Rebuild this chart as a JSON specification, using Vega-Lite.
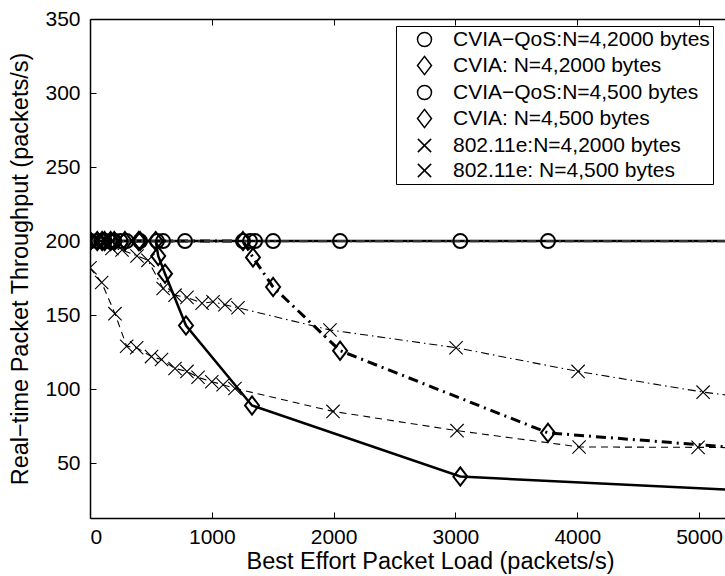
{
  "$schema": "https://vega.github.io/schema/vega-lite/v6.json",
  "width": 635,
  "height": 499,
  "autosize": "none",
  "padding": {"left": 90, "top": 19, "right": 0, "bottom": 58},
  "background": "white",
  "config": {
    "font": "Liberation Sans",
    "view": {"stroke": null},
    "axis": {
      "grid": false,
      "domainColor": "black",
      "domainWidth": 1.5,
      "tickColor": "black",
      "tickWidth": 1,
      "tickSize": -6,
      "labelFont": "Liberation Sans",
      "labelFontSize": 21,
      "labelColor": "black",
      "titleFont": "Liberation Sans",
      "titleFontSize": 23.5,
      "titleFontWeight": "normal",
      "titleColor": "black"
    }
  },
  "data": {
    "values": [
      {"s": "CVIA\u2212QoS:N=4,2000 bytes", "x": 0, "y": 200},
      {"s": "CVIA\u2212QoS:N=4,2000 bytes", "x": 60, "y": 200},
      {"s": "CVIA\u2212QoS:N=4,2000 bytes", "x": 120, "y": 200},
      {"s": "CVIA\u2212QoS:N=4,2000 bytes", "x": 170, "y": 200},
      {"s": "CVIA\u2212QoS:N=4,2000 bytes", "x": 250, "y": 200},
      {"s": "CVIA\u2212QoS:N=4,2000 bytes", "x": 411, "y": 200},
      {"s": "CVIA\u2212QoS:N=4,2000 bytes", "x": 550, "y": 200},
      {"s": "CVIA\u2212QoS:N=4,2000 bytes", "x": 600, "y": 200},
      {"s": "CVIA\u2212QoS:N=4,2000 bytes", "x": 780, "y": 200},
      {"s": "CVIA\u2212QoS:N=4,2000 bytes", "x": 1314, "y": 200},
      {"s": "CVIA\u2212QoS:N=4,2000 bytes", "x": 3040, "y": 200},
      {"s": "CVIA\u2212QoS:N=4,2000 bytes", "x": 6000, "y": 200},
      {"s": "CVIA: N=4,2000 bytes", "x": 0, "y": 200},
      {"s": "CVIA: N=4,2000 bytes", "x": 60, "y": 200},
      {"s": "CVIA: N=4,2000 bytes", "x": 120, "y": 200},
      {"s": "CVIA: N=4,2000 bytes", "x": 170, "y": 200},
      {"s": "CVIA: N=4,2000 bytes", "x": 287, "y": 200},
      {"s": "CVIA: N=4,2000 bytes", "x": 411, "y": 200},
      {"s": "CVIA: N=4,2000 bytes", "x": 540, "y": 200},
      {"s": "CVIA: N=4,2000 bytes", "x": 560, "y": 190},
      {"s": "CVIA: N=4,2000 bytes", "x": 616, "y": 178},
      {"s": "CVIA: N=4,2000 bytes", "x": 788, "y": 143},
      {"s": "CVIA: N=4,2000 bytes", "x": 1330, "y": 89},
      {"s": "CVIA: N=4,2000 bytes", "x": 3040, "y": 41},
      {"s": "CVIA: N=4,2000 bytes", "x": 6000, "y": 29},
      {"s": "CVIA\u2212QoS:N=4,500 bytes", "x": 0, "y": 200},
      {"s": "CVIA\u2212QoS:N=4,500 bytes", "x": 100, "y": 200},
      {"s": "CVIA\u2212QoS:N=4,500 bytes", "x": 200, "y": 200},
      {"s": "CVIA\u2212QoS:N=4,500 bytes", "x": 300, "y": 200},
      {"s": "CVIA\u2212QoS:N=4,500 bytes", "x": 1256, "y": 200},
      {"s": "CVIA\u2212QoS:N=4,500 bytes", "x": 1355, "y": 200},
      {"s": "CVIA\u2212QoS:N=4,500 bytes", "x": 1503, "y": 200},
      {"s": "CVIA\u2212QoS:N=4,500 bytes", "x": 2053, "y": 200},
      {"s": "CVIA\u2212QoS:N=4,500 bytes", "x": 3760, "y": 200},
      {"s": "CVIA\u2212QoS:N=4,500 bytes", "x": 6000, "y": 200},
      {"s": "CVIA: N=4,500 bytes", "x": 0, "y": 200},
      {"s": "CVIA: N=4,500 bytes", "x": 100, "y": 200},
      {"s": "CVIA: N=4,500 bytes", "x": 200, "y": 200},
      {"s": "CVIA: N=4,500 bytes", "x": 400, "y": 200},
      {"s": "CVIA: N=4,500 bytes", "x": 1256, "y": 200},
      {"s": "CVIA: N=4,500 bytes", "x": 1338, "y": 189},
      {"s": "CVIA: N=4,500 bytes", "x": 1503, "y": 169},
      {"s": "CVIA: N=4,500 bytes", "x": 2053, "y": 126},
      {"s": "CVIA: N=4,500 bytes", "x": 3760, "y": 70.5},
      {"s": "CVIA: N=4,500 bytes", "x": 6000, "y": 56},
      {"s": "802.11e:N=4,2000 bytes", "x": 0, "y": 182},
      {"s": "802.11e:N=4,2000 bytes", "x": 96, "y": 172},
      {"s": "802.11e:N=4,2000 bytes", "x": 205, "y": 151},
      {"s": "802.11e:N=4,2000 bytes", "x": 301, "y": 129},
      {"s": "802.11e:N=4,2000 bytes", "x": 383, "y": 128},
      {"s": "802.11e:N=4,2000 bytes", "x": 505, "y": 122},
      {"s": "802.11e:N=4,2000 bytes", "x": 587, "y": 120},
      {"s": "802.11e:N=4,2000 bytes", "x": 698, "y": 114},
      {"s": "802.11e:N=4,2000 bytes", "x": 796, "y": 112},
      {"s": "802.11e:N=4,2000 bytes", "x": 887, "y": 108},
      {"s": "802.11e:N=4,2000 bytes", "x": 1000, "y": 105},
      {"s": "802.11e:N=4,2000 bytes", "x": 1093, "y": 103},
      {"s": "802.11e:N=4,2000 bytes", "x": 1190, "y": 100.5},
      {"s": "802.11e:N=4,2000 bytes", "x": 1995, "y": 85},
      {"s": "802.11e:N=4,2000 bytes", "x": 3013, "y": 72},
      {"s": "802.11e:N=4,2000 bytes", "x": 4015, "y": 61},
      {"s": "802.11e:N=4,2000 bytes", "x": 4992, "y": 60.7},
      {"s": "802.11e:N=4,2000 bytes", "x": 6000, "y": 60},
      {"s": "802.11e: N=4,500 bytes", "x": 0, "y": 200},
      {"s": "802.11e: N=4,500 bytes", "x": 100, "y": 199},
      {"s": "802.11e: N=4,500 bytes", "x": 180, "y": 195},
      {"s": "802.11e: N=4,500 bytes", "x": 263, "y": 194},
      {"s": "802.11e: N=4,500 bytes", "x": 386, "y": 190},
      {"s": "802.11e: N=4,500 bytes", "x": 476, "y": 187},
      {"s": "802.11e: N=4,500 bytes", "x": 600, "y": 168},
      {"s": "802.11e: N=4,500 bytes", "x": 698, "y": 163.5},
      {"s": "802.11e: N=4,500 bytes", "x": 796, "y": 162},
      {"s": "802.11e: N=4,500 bytes", "x": 920, "y": 158},
      {"s": "802.11e: N=4,500 bytes", "x": 1010, "y": 159},
      {"s": "802.11e: N=4,500 bytes", "x": 1108, "y": 157},
      {"s": "802.11e: N=4,500 bytes", "x": 1215, "y": 155},
      {"s": "802.11e: N=4,500 bytes", "x": 1970, "y": 140},
      {"s": "802.11e: N=4,500 bytes", "x": 3005, "y": 128},
      {"s": "802.11e: N=4,500 bytes", "x": 4007, "y": 112},
      {"s": "802.11e: N=4,500 bytes", "x": 5033, "y": 98},
      {"s": "802.11e: N=4,500 bytes", "x": 6000, "y": 88}
    ]
  },
  "resolve": {"axis": {"x": "independent", "y": "independent"}},
  "layer": [
    {
      "transform": [{"filter": "datum.s === '802.11e:N=4,2000 bytes'"}],
      "mark": {"type": "line", "clip": true, "color": "black", "strokeWidth": 1.1, "strokeDash": [7, 5]},
      "encoding": {
        "x": {"field": "x", "type": "quantitative", "scale": {"domain": [0, 5213], "nice": false, "zero": false},
          "axis": {"values": [0, 1000, 2000, 3000, 4000, 5000], "format": "d", "title": "Best Effort Packet Load (packets/s)", "labelPadding": 14, "titlePadding": 2, "titleX": 340}},
        "y": {"field": "y", "type": "quantitative", "scale": {"domain": [13, 350], "nice": false, "zero": false},
          "axis": {"values": [50, 100, 150, 200, 250, 300, 350], "format": "d", "title": "Real\u2212time Packet Throughput (packets/s)", "labelPadding": 16, "titlePadding": 12}}
      }
    },
    {
      "transform": [{"filter": "datum.s === '802.11e: N=4,500 bytes'"}],
      "mark": {"type": "line", "clip": true, "color": "black", "strokeWidth": 1.1, "strokeDash": [8, 4, 1.5, 4]},
      "encoding": {
        "x": {"field": "x", "type": "quantitative", "axis": null},
        "y": {"field": "y", "type": "quantitative", "axis": null}
      }
    },
    {
      "transform": [{"filter": "datum.s === 'CVIA: N=4,500 bytes'"}],
      "mark": {"type": "line", "clip": true, "color": "black", "strokeWidth": 3, "strokeDash": [10, 5, 2, 5]},
      "encoding": {
        "x": {"field": "x", "type": "quantitative", "axis": null},
        "y": {"field": "y", "type": "quantitative", "axis": null}
      }
    },
    {
      "transform": [{"filter": "datum.s === 'CVIA: N=4,2000 bytes'"}],
      "mark": {"type": "line", "clip": true, "color": "black", "strokeWidth": 2.5},
      "encoding": {
        "x": {"field": "x", "type": "quantitative", "axis": null},
        "y": {"field": "y", "type": "quantitative", "axis": null}
      }
    },
    {
      "transform": [{"filter": "datum.s === 'CVIA\u2212QoS:N=4,2000 bytes'"}],
      "mark": {"type": "line", "clip": true, "color": "black", "strokeWidth": 2.5},
      "encoding": {
        "x": {"field": "x", "type": "quantitative", "axis": null},
        "y": {"field": "y", "type": "quantitative", "axis": null}
      }
    },
    {
      "transform": [{"filter": "datum.s === 'CVIA\u2212QoS:N=4,500 bytes'"}],
      "mark": {"type": "line", "clip": true, "color": "#333333", "strokeWidth": 2.3, "strokeDash": [9, 4, 2, 4]},
      "encoding": {
        "x": {"field": "x", "type": "quantitative", "axis": null},
        "y": {"field": "y", "type": "quantitative", "axis": null}
      }
    },
    {
      "mark": {"type": "point", "clip": true, "filled": false, "color": "black", "opacity": 1, "size": 196},
      "encoding": {
        "x": {"field": "x", "type": "quantitative", "axis": {"orient": "top", "labels": false, "domain": true, "values": [0, 1000, 2000, 3000, 4000, 5000], "title": null}},
        "y": {"field": "y", "type": "quantitative", "axis": null},
        "strokeWidth": {"condition": {"test": "indexof(datum.s, '802.11e') >= 0", "value": 1.1}, "value": 2},
        "shape": {"field": "s", "type": "nominal", "scale": {
          "domain": ["CVIA\u2212QoS:N=4,2000 bytes", "CVIA: N=4,2000 bytes", "CVIA\u2212QoS:N=4,500 bytes", "CVIA: N=4,500 bytes", "802.11e:N=4,2000 bytes", "802.11e: N=4,500 bytes"],
          "range": ["M-1,0A1,1 0 1,0 1,0A1,1 0 1,0 -1,0Z", "M0,-1.3L1,0L0,1.3L-1,0Z", "M-1,0A1,1 0 1,0 1,0A1,1 0 1,0 -1,0Z", "M0,-1.3L1,0L0,1.3L-1,0Z", "M-0.95,-0.95L0.95,0.95M-0.95,0.95L0.95,-0.95", "M-0.95,-0.95L0.95,0.95M-0.95,0.95L0.95,-0.95"]},
          "legend": {
            "orient": "none", "legendX": 306, "legendY": 7, "title": null,
            "fillColor": "white", "strokeColor": "black", "padding": 3,
            "symbolSize": 196, "symbolFillColor": "transparent", "symbolStrokeColor": "black",
            "symbolOffset": 15, "labelOffset": 18, "rowPadding": 3,
            "labelFontSize": 21, "labelFont": "Liberation Sans", "labelColor": "black", "labelLimit": 400,
            "encode": {
              "legend": {"strokeWidth": {"value": 1.5}},
              "symbols": {
                "strokeWidth": {"value": {"expr": "indexof(datum.value, '802.11e') >= 0 ? 1 : 2"}}
              }
            }
          }
        }
      }
    }
  ]
}
